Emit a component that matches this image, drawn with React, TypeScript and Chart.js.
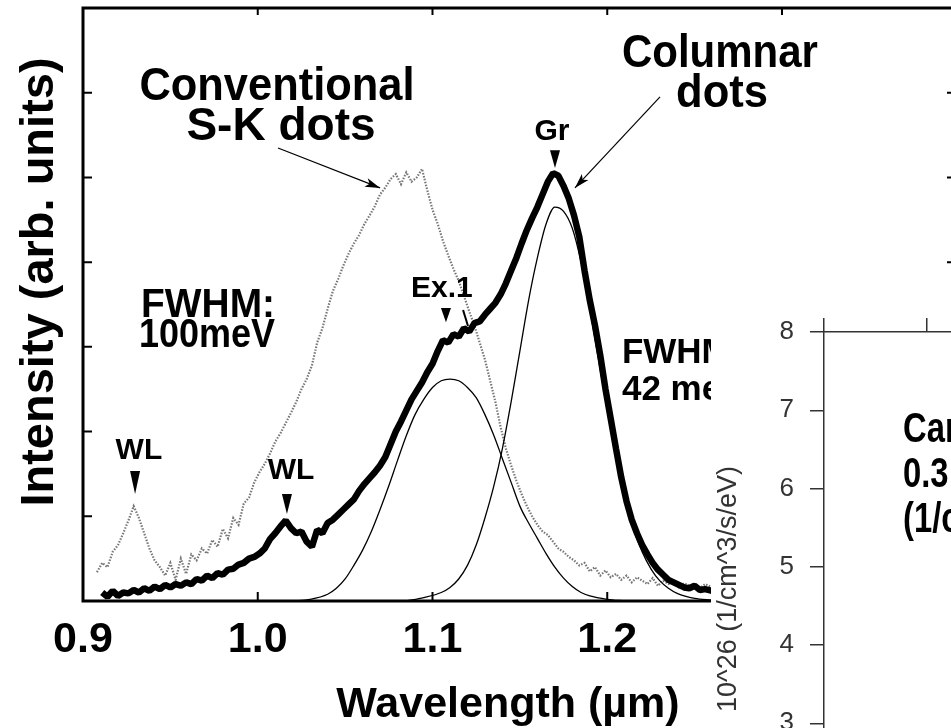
import React, { useEffect, useRef } from 'react';
import { Chart, registerables } from 'chart.js';
Chart.register(...registerables);

// ---------- data (wavelength in µm, intensity in arb. units) ----------
const SK_WL = [0.908,0.911,0.914,0.917,0.920,0.923,0.926,0.929,0.932,0.935,0.938,0.941,0.944,0.947,0.950,0.953,0.956,0.959,0.962,0.965,0.968,0.971,0.974,0.977,0.980,0.983,0.986,0.989,0.992,0.995,0.998,1.001,1.004,1.007,1.010,1.013,1.016,1.019,1.022,1.025,1.028,1.031,1.034,1.037,1.040,1.043,1.046,1.049,1.052,1.055,1.058,1.061,1.064,1.067,1.070,1.073,1.076,1.079,1.082,1.085,1.088,1.091,1.094,1.097,1.100,1.103,1.106,1.109,1.112,1.115,1.118,1.121,1.124,1.127,1.130,1.133,1.136,1.139,1.142,1.145,1.148,1.151,1.154,1.157,1.160,1.163,1.166,1.169,1.172,1.175,1.178,1.181,1.184,1.187,1.190,1.193,1.196,1.199,1.202,1.205,1.208,1.211,1.214,1.217,1.220,1.223,1.226,1.229,1.232,1.235,1.238,1.241,1.244,1.247,1.250,1.253,1.256,1.260];
const SK_I = [0.34,0.45,0.40,0.58,0.66,0.80,0.95,1.12,0.98,0.80,0.62,0.48,0.40,0.30,0.45,0.25,0.50,0.32,0.55,0.48,0.62,0.56,0.72,0.64,0.85,0.74,0.98,0.90,1.15,1.22,1.40,1.52,1.62,1.74,1.88,1.98,2.10,2.22,2.35,2.50,2.62,2.78,3.05,3.22,3.45,3.66,3.80,3.96,4.10,4.22,4.32,4.45,4.55,4.66,4.80,4.88,4.98,5.04,4.92,5.06,4.95,5.00,5.10,4.85,4.62,4.45,4.25,4.08,3.92,3.78,3.60,3.42,3.25,3.05,2.85,2.60,2.35,2.05,1.80,1.60,1.42,1.26,1.12,1.00,0.90,0.82,0.78,0.70,0.62,0.58,0.52,0.48,0.42,0.45,0.35,0.40,0.30,0.36,0.28,0.32,0.25,0.30,0.22,0.28,0.24,0.20,0.27,0.18,0.24,0.20,0.22,0.16,0.21,0.18,0.19,0.15,0.20,0.16];

const COL_WL = [0.911,0.914,0.917,0.920,0.923,0.926,0.929,0.932,0.935,0.938,0.941,0.944,0.947,0.950,0.953,0.956,0.959,0.962,0.965,0.968,0.971,0.974,0.977,0.980,0.983,0.986,0.989,0.992,0.995,0.998,1.001,1.004,1.007,1.010,1.013,1.016,1.019,1.022,1.025,1.028,1.031,1.034,1.037,1.040,1.043,1.046,1.049,1.052,1.055,1.058,1.061,1.064,1.067,1.070,1.073,1.076,1.079,1.082,1.085,1.088,1.091,1.094,1.097,1.100,1.103,1.106,1.109,1.112,1.115,1.118,1.121,1.124,1.127,1.130,1.133,1.136,1.139,1.142,1.145,1.148,1.151,1.154,1.157,1.160,1.163,1.166,1.169,1.172,1.175,1.178,1.181,1.184,1.187,1.190,1.193,1.196,1.199,1.202,1.205,1.208,1.211,1.214,1.217,1.220,1.223,1.226,1.229,1.232,1.235,1.238,1.241,1.244,1.247,1.250,1.253,1.256,1.260];
const COL_I = [0.10,0.05,0.12,0.06,0.10,0.09,0.13,0.10,0.15,0.12,0.17,0.14,0.19,0.16,0.20,0.18,0.22,0.20,0.26,0.24,0.30,0.27,0.33,0.31,0.37,0.38,0.43,0.45,0.50,0.52,0.56,0.62,0.73,0.80,0.88,0.95,0.86,0.80,0.82,0.70,0.64,0.84,0.80,0.92,0.96,1.02,1.08,1.14,1.20,1.30,1.38,1.45,1.52,1.60,1.70,1.85,2.00,2.12,2.25,2.38,2.48,2.58,2.70,2.80,2.95,3.08,3.05,3.15,3.12,3.22,3.18,3.28,3.30,3.38,3.45,3.52,3.62,3.75,3.90,4.05,4.22,4.38,4.52,4.65,4.80,4.95,5.05,5.02,4.90,4.75,4.55,4.30,3.90,3.55,3.25,2.90,2.50,2.15,1.80,1.46,1.18,0.96,0.80,0.66,0.55,0.45,0.37,0.31,0.25,0.22,0.19,0.16,0.15,0.18,0.13,0.14,0.12];

const EX1_WL = [1.020,1.030,1.040,1.045,1.050,1.055,1.060,1.065,1.070,1.075,1.080,1.085,1.090,1.095,1.100,1.105,1.110,1.115,1.120,1.125,1.130,1.135,1.140,1.145,1.150,1.155,1.160,1.165,1.170,1.175,1.180,1.185,1.190,1.200,1.210];
const EX1_I = [0.00,0.02,0.08,0.15,0.26,0.42,0.60,0.82,1.08,1.36,1.66,1.95,2.20,2.38,2.52,2.60,2.62,2.60,2.52,2.40,2.20,1.96,1.68,1.40,1.12,0.92,0.74,0.56,0.40,0.27,0.17,0.10,0.06,0.02,0.00];

const GR_WL = [1.085,1.095,1.105,1.110,1.115,1.120,1.125,1.130,1.135,1.140,1.145,1.150,1.155,1.160,1.165,1.170,1.175,1.180,1.185,1.190,1.195,1.200,1.205,1.210,1.215,1.220,1.225,1.230,1.235,1.240,1.250,1.260];
const GR_I = [0.00,0.04,0.10,0.16,0.26,0.42,0.66,0.98,1.35,1.80,2.35,2.95,3.55,4.05,4.45,4.65,4.60,4.40,4.00,3.45,2.85,2.25,1.70,1.22,0.85,0.58,0.38,0.24,0.15,0.09,0.03,0.01];

const X_TICKS = [0.9, 1.0, 1.1, 1.2, 1.3, 1.4];
const X_TICK_LABELS = ['0.9', '1.0', '1.1', '1.2', '1.3', '1.4'];
const Y_TICKS = [0, 1, 2, 3, 4, 5, 6, 7];

// inset (second chart) axes
const INSET_X_RANGE = [0, 3];
const INSET_Y_RANGE = [0, 8];

const FONT = '"Liberation Sans", Arial, sans-serif';

type Note = { text: string; x: number; y: number; size: number; align: CanvasTextAlign; maxW?: number };
const NOTES: Note[] = [
  { text: 'Conventional', x: 1.011, y: 5.915, size: 46, align: 'center', maxW: 275 },
  { text: 'S-K dots', x: 1.0133, y: 5.44, size: 46, align: 'center', maxW: 190 },
  { text: 'Columnar', x: 1.2645, y: 6.30, size: 46, align: 'center', maxW: 196 },
  { text: 'dots', x: 1.2657, y: 5.83, size: 46, align: 'center', maxW: 92 },
  { text: 'Gr', x: 1.1684, y: 5.44, size: 30, align: 'center' },
  { text: 'Ex.1', x: 1.1054, y: 3.59, size: 30, align: 'center' },
  { text: 'FWHM:', x: 0.9332, y: 3.353, size: 40, align: 'left', maxW: 134 },
  { text: '100meV', x: 0.932, y: 3.0, size: 40, align: 'left', maxW: 136 },
  { text: 'FWHM:', x: 1.2084, y: 2.81, size: 35, align: 'left' },
  { text: '42 meV', x: 1.2084, y: 2.373, size: 35, align: 'left' },
  { text: 'WL', x: 0.932, y: 1.676, size: 30, align: 'center' },
  { text: 'WL', x: 1.019, y: 1.44, size: 30, align: 'center' },
];
const MARKERS = [
  { x: 0.9298, top: 1.535, tip: 1.263 },
  { x: 1.0167, top: 1.263, tip: 1.027 },
  { x: 1.1701, top: 5.32, tip: 5.11 },
  { x: 1.1077, top: 3.46, tip: 3.29 },
];
const TICKMARKS = [{ x1: 1.1175, y1: 3.436, x2: 1.1203, y2: 3.247 }];
const ARROWS = [
  { x1: 1.0116, y1: 5.348, x2: 1.070, y2: 4.876 },
  { x1: 1.2302, y1: 5.95, x2: 1.1815, y2: 4.876 },
];

const INSET_NOTES = [
  { text: 'Carrier generation rate', x: 0.767, y: 6.593 },
  { text: '0.3 eV', x: 0.767, y: 6.018 },
  { text: '(1/cm^3/s)', x: 0.767, y: 5.44 },
];

const pts = (xs: number[], ys: number[]) => xs.map((x, i) => ({ x, y: ys[i] }));

function drawArrow(ctx: CanvasRenderingContext2D, x1: number, y1: number, x2: number, y2: number) {
  ctx.beginPath();
  ctx.moveTo(x1, y1);
  ctx.lineTo(x2, y2);
  ctx.stroke();
  const a = Math.atan2(y2 - y1, x2 - x1);
  const L = 15, W = 4.5;
  const c = Math.cos(a), s = Math.sin(a);
  ctx.beginPath();
  ctx.moveTo(x2, y2);
  ctx.lineTo(x2 - L * c + W * s, y2 - L * s - W * c);
  ctx.lineTo(x2 - L * 0.75 * c, y2 - L * 0.75 * s);
  ctx.lineTo(x2 - L * c - W * s, y2 - L * s + W * c);
  ctx.closePath();
  ctx.fill();
}

const mainDecor = {
  id: 'mainDecor',
  afterDatasetsDraw(chart: any) {
    const { ctx, chartArea: a, scales } = chart;
    const x = scales.x, y = scales.y;
    ctx.save();
    ctx.strokeStyle = '#000';
    ctx.fillStyle = '#000';
    ctx.lineWidth = 2;
    for (const v of X_TICKS) {
      const px = x.getPixelForValue(v);
      ctx.beginPath();
      ctx.moveTo(px, a.bottom); ctx.lineTo(px, a.bottom - 9);
      ctx.moveTo(px, a.top); ctx.lineTo(px, a.top + 7);
      ctx.stroke();
    }
    for (const v of Y_TICKS) {
      const py = y.getPixelForValue(v);
      ctx.beginPath();
      ctx.moveTo(a.left, py); ctx.lineTo(a.left + 9, py);
      ctx.moveTo(a.right, py); ctx.lineTo(a.right - 8, py);
      ctx.stroke();
    }
    ctx.lineWidth = 3;
    ctx.strokeRect(a.left, a.top, a.right - a.left, a.bottom - a.top);
    ctx.font = `bold 43px ${FONT}`;
    ctx.textAlign = 'center';
    ctx.textBaseline = 'alphabetic';
    X_TICKS.forEach((v, i) => {
      ctx.fillText(X_TICK_LABELS[i], x.getPixelForValue(v), a.bottom + 51);
    });
    ctx.fillText('Wavelength (\u00b5m)', a.left + 425, a.bottom + 116, 355);
    ctx.save();
    ctx.translate(a.left - 43, a.top + 274);
    ctx.rotate(-Math.PI / 2);
    ctx.textBaseline = 'middle';
    ctx.font = `bold 47px ${FONT}`;
    ctx.fillText('Intensity (arb. units)', 0, 0, 478);
    ctx.restore();
    for (const n of NOTES) {
      ctx.font = `bold ${n.size}px ${FONT}`;
      ctx.textAlign = n.align;
      ctx.textBaseline = 'alphabetic';
      const px = x.getPixelForValue(n.x), py = y.getPixelForValue(n.y);
      if (n.maxW) ctx.fillText(n.text, px, py, n.maxW);
      else ctx.fillText(n.text, px, py);
    }
    for (const m of MARKERS) {
      const px = x.getPixelForValue(m.x);
      const t = y.getPixelForValue(m.top), b = y.getPixelForValue(m.tip);
      ctx.beginPath();
      ctx.moveTo(px - 5, t); ctx.lineTo(px + 5, t); ctx.lineTo(px, b);
      ctx.closePath();
      ctx.fill();
    }
    ctx.lineWidth = 2;
    for (const tm of TICKMARKS) {
      ctx.beginPath();
      ctx.moveTo(x.getPixelForValue(tm.x1), y.getPixelForValue(tm.y1));
      ctx.lineTo(x.getPixelForValue(tm.x2), y.getPixelForValue(tm.y2));
      ctx.stroke();
    }
    ctx.lineWidth = 1.2;
    for (const ar of ARROWS) {
      drawArrow(ctx, x.getPixelForValue(ar.x1), y.getPixelForValue(ar.y1), x.getPixelForValue(ar.x2), y.getPixelForValue(ar.y2));
    }
    ctx.restore();
  },
};

const insetDecor = {
  id: 'insetDecor',
  afterDraw(chart: any) {
    const { ctx, chartArea: a, scales } = chart;
    const x = scales.x, y = scales.y;
    ctx.save();
    ctx.fillStyle = '#333';
    ctx.translate(a.left - 95, a.top + 257);
    ctx.rotate(-Math.PI / 2);
    ctx.font = `27px ${FONT}`;
    ctx.textAlign = 'center';
    ctx.textBaseline = 'middle';
    ctx.fillText('10^26 (1/cm^3/s/eV)', 0, 0, 252);
    ctx.restore();
    ctx.save();
    ctx.fillStyle = '#000';
    ctx.font = `bold 42px ${FONT}`;
    ctx.textAlign = 'left';
    ctx.textBaseline = 'alphabetic';
    for (const n of INSET_NOTES) {
      ctx.save();
      ctx.translate(x.getPixelForValue(n.x), y.getPixelForValue(n.y));
      ctx.scale(0.78, 1);
      ctx.fillText(n.text, 0, 0);
      ctx.restore();
    }
    ctx.restore();
  },
};

export default function App() {
  const mainRef = useRef<HTMLCanvasElement>(null);
  const insetRef = useRef<HTMLCanvasElement>(null);

  useEffect(() => {
    const main = new Chart(mainRef.current as HTMLCanvasElement, {
      type: 'line',
      data: {
        datasets: [
          { label: 'Columnar dots', data: pts(COL_WL, COL_I), borderColor: '#000', borderWidth: 6.5, pointRadius: 0, tension: 0, borderJoinStyle: 'bevel', order: 0 } as any,
          { label: 'Gr fit', data: pts(GR_WL, GR_I), borderColor: '#000', borderWidth: 1.3, pointRadius: 0, cubicInterpolationMode: 'monotone', order: 1 } as any,
          { label: 'Ex.1 fit', data: pts(EX1_WL, EX1_I), borderColor: '#000', borderWidth: 1.3, pointRadius: 0, cubicInterpolationMode: 'monotone', order: 2 } as any,
          { label: 'Conventional S-K dots', data: pts(SK_WL, SK_I), borderColor: '#777', borderWidth: 2.2, borderDash: [1.5, 1.5], pointRadius: 0, tension: 0, order: 3 } as any,
        ],
      },
      options: {
        responsive: false,
        animation: false,
        events: [],
        layout: { padding: { left: 83, top: 8, right: 25, bottom: 127 } },
        plugins: { legend: { display: false }, tooltip: { enabled: false } },
        scales: {
          x: { type: 'linear', min: 0.9, max: 1.399, display: false },
          y: { type: 'linear', min: 0, max: 7, display: false },
        },
      },
      plugins: [mainDecor],
    });

    const inset = new Chart(insetRef.current as HTMLCanvasElement, {
      type: 'line',
      data: { datasets: [] },
      options: {
        responsive: false,
        animation: false,
        events: [],
        layout: { padding: { left: 0, top: 0, right: 18, bottom: 42 } },
        plugins: { legend: { display: false }, tooltip: { enabled: false } },
        scales: {
          x: {
            type: 'linear', position: 'top', min: INSET_X_RANGE[0], max: INSET_X_RANGE[1],
            ticks: { display: false, stepSize: 1 },
            grid: { drawOnChartArea: false, drawTicks: true, tickLength: 14, color: '#333', lineWidth: 1.5 },
            border: { display: true, color: '#333', width: 1.5 },
            afterFit: (s: any) => { s.height = 32; },
          },
          y: {
            type: 'linear', position: 'left', min: INSET_Y_RANGE[0], max: INSET_Y_RANGE[1],
            ticks: { stepSize: 1, padding: 16, color: '#333', font: { family: FONT, size: 26 } },
            grid: { drawOnChartArea: false, drawTicks: true, tickLength: 14, color: '#333', lineWidth: 1.5 },
            border: { display: true, color: '#333', width: 1.5 },
            afterFit: (s: any) => { s.width = 113; },
          },
        },
      } as any,
      plugins: [insetDecor],
    });

    return () => { main.destroy(); inset.destroy(); };
  }, []);

  return (
    <div style={{ position: 'fixed', left: 0, top: 0, width: 951, height: 728, overflow: 'hidden', background: '#fff' }}>
      <canvas ref={mainRef} width={980} height={728} style={{ position: 'absolute', left: 0, top: 0 }} />
      <canvas ref={insetRef} width={440} height={700} style={{ position: 'absolute', left: 711, top: 300, background: '#fff' }} />
    </div>
  );
}
